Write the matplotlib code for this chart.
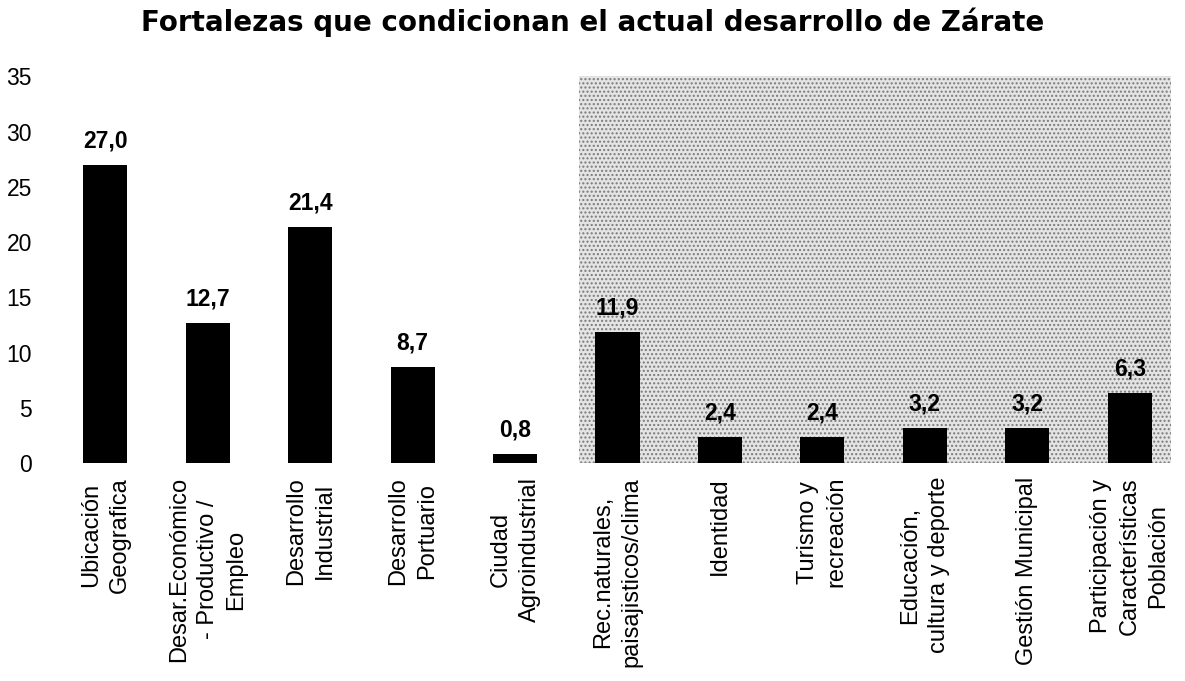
"""
Bar chart: Fortalezas que condicionan el actual desarrollo de Zárate.
"""

import matplotlib.pyplot as plt

categories = [
    "Ubicación\nGeografica",
    "Desar.Económico\n- Productivo /\nEmpleo",
    "Desarrollo\nIndustrial",
    "Desarrollo\nPortuario",
    "Ciudad\nAgroindustrial",
    "Rec.naturales,\npaisajisticos/clima",
    "Identidad",
    "Turismo y\nrecreación",
    "Educación,\ncultura y deporte",
    "Gestión Municipal",
    "Participación y\nCaracterísticas\nPoblación",
]
values = [27.0, 12.7, 21.4, 8.7, 0.8, 11.9, 2.4, 2.4, 3.2, 3.2, 6.3]
yticks = [0, 5, 10, 15, 20, 25, 30, 35]

plt.rcParams["font.family"] = ["Liberation Sans", "DejaVu Sans"]

fig = plt.figure(figsize=(11.85, 6.81), dpi=100)
ax = fig.add_axes([0.0456, 0.320, 0.951, 0.568])

x = list(range(len(categories)))

# stippled background of the scanned original (right half)
ax.axvspan(4.62, 10.4, ymin=0, ymax=1, facecolor="#e4e4e4", edgecolor="#7a7a7a",
           hatch="....", linewidth=0, zorder=0)

ax.bar(x, values, width=0.43, color="black", zorder=2)

for xi, v in zip(x, values):
    ax.annotate(f"{v:.1f}".replace(".", ","), (xi, v), xytext=(0, 9),
                textcoords="offset points", ha="center", va="bottom",
                fontsize=16.5, fontweight="bold", zorder=3)

ax.set_xlim(-0.5, 10.5)
ax.set_ylim(0, 35)
ax.set_yticks(yticks)
ax.set_yticklabels([str(t) for t in yticks], fontsize=16.5)
ax.set_xticks(x)
ax.set_xticklabels(categories, rotation=90, fontsize=17, ha="center", va="top",
                   multialignment="center", linespacing=1.4)
ax.tick_params(length=0)
ax.tick_params(axis="x", pad=10)
ax.tick_params(axis="y", pad=16)
for s in ax.spines.values():
    s.set_visible(False)

fig.text(0.50, 0.967, "Fortalezas que condicionan el actual desarrollo de Zárate",
         ha="center", va="center", fontsize=20, fontweight="bold",
         family="DejaVu Sans")

fig.savefig("out.png", dpi=100)
